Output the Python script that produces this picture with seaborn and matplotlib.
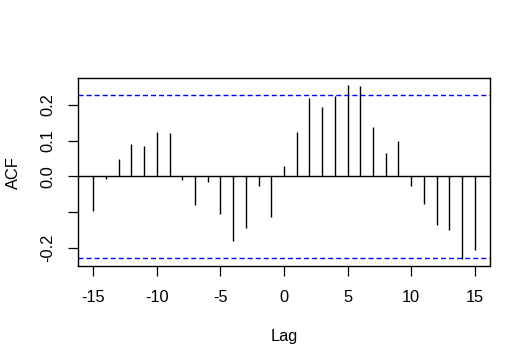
import numpy as np
import pandas as pd
import matplotlib
matplotlib.use("Agg")
import matplotlib.pyplot as plt
import seaborn as sns

lags = list(range(-15, 16))
acf = [-0.095, -0.007, 0.048, 0.090, 0.084, 0.123, 0.120, -0.009, -0.081, -0.015,
       -0.106, -0.181, -0.143, -0.027, -0.112, 0.029, 0.123, 0.218, 0.193, 0.224,
       0.254, 0.251, 0.137, 0.065, 0.098, -0.026, -0.076, -0.134, -0.148, -0.231,
       -0.206]
clim = 0.228
xticks = [-15, -10, -5, 0, 5, 10, 15]
yticks = [-0.2, -0.1, 0.0, 0.1, 0.2]
ytick_labels = ["-0.2", "", "0.0", "0.1", "0.2"]

sns.set_theme(style="ticks")
plt.rcParams["font.family"] = ["Liberation Sans", "DejaVu Sans"]
plt.rcParams["lines.scale_dashes"] = False
plt.rcParams["text.color"] = "black"
plt.rcParams["axes.labelcolor"] = "black"
plt.rcParams["xtick.color"] = "black"
plt.rcParams["ytick.color"] = "black"

df = pd.DataFrame({"Lag": lags, "ACF": acf})

fig = plt.figure(figsize=(5.31, 3.64), dpi=100)
ax = fig.add_axes([78/531, 1-266.3/364, (490-78)/531, (266.3-78.3)/364])

ax.vlines(df["Lag"], 0, df["ACF"], color="black", lw=1.0)
ax.axhline(0, color="black", lw=1.0)
ax.axhline(clim, color="blue", lw=1.0, ls=(0, (3.6, 2.2)))
ax.axhline(-clim, color="blue", lw=1.0, ls=(0, (3.6, 2.2)))

lo, hi = min(min(acf), -clim), max(max(acf), clim)
ext = 0.04 * (hi - lo)
ax.set_ylim(lo - ext, hi + ext)
ax.set_xlim(-16.2, 16.2)

ax.set_xticks(xticks)
ax.set_xticklabels([str(t) for t in xticks], fontsize=11.8, color="black")
ax.set_yticks(yticks)
ax.set_yticklabels(ytick_labels, fontsize=11.8, rotation=90, va="center", color="black")
ax.tick_params(axis="both", direction="out", length=7, width=0.9, colors="black")
ax.tick_params(axis="x", pad=10)
ax.tick_params(axis="y", pad=9.5)

for s in ax.spines.values():
    s.set_visible(True)
    s.set_color("black")
    s.set_linewidth(1.0)

ax.set_xlabel("Lag", fontsize=11.8, labelpad=17, color="black")
ax.set_ylabel("ACF", fontsize=11.8, labelpad=14, color="black")

fig.savefig("out.png", dpi=100)
